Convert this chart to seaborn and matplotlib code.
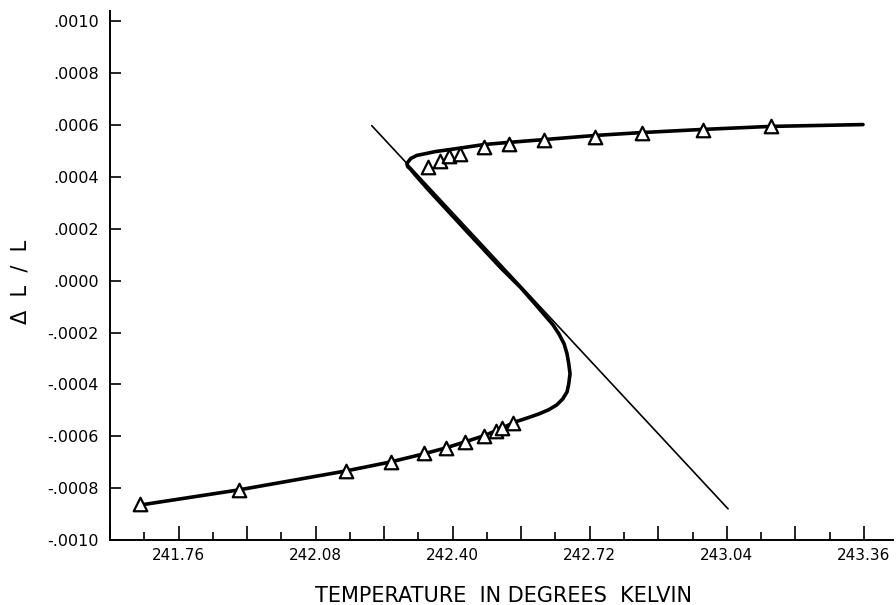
import matplotlib
matplotlib.use("Agg")
import matplotlib.pyplot as plt
import seaborn as sns
import pandas as pd

# Measured points (triangles)
point_T = [241.671, 241.900, 242.150, 242.255, 242.332, 242.384, 242.428, 242.473,
           242.501, 242.515, 242.540,
           242.342, 242.370, 242.391, 242.417, 242.473, 242.531, 242.613, 242.732,
           242.842, 242.984, 243.143]
point_dL = [-0.000861, -0.000807, -0.000734, -0.000699, -0.000664, -0.000645, -0.000622,
            -0.000598, -0.000579, -0.000568, -0.000548,
            0.000440, 0.000463, 0.000479, 0.000490, 0.000514, 0.000529, 0.000541,
            0.000556, 0.000568, 0.000583, 0.000595]

# Smooth S-shaped curve (traced)
curve_T = [243.358, 243.143, 242.980, 242.839, 242.732, 242.613, 242.529, 242.473,
           242.412, 242.360, 242.337, 242.316, 242.302, 242.295, 242.293, 242.295,
           242.302, 242.314, 242.349, 242.442, 242.512, 242.559, 242.594, 242.620,
           242.634, 242.648, 242.660, 242.667, 242.671, 242.674, 242.671, 242.667,
           242.657, 242.643, 242.624, 242.601, 242.575, 242.547, 242.512, 242.473,
           242.428, 242.384, 242.332, 242.255, 242.150, 241.900, 241.671]
curve_dL = [0.000602, 0.000595, 0.000583, 0.000571, 0.000560, 0.000544, 0.000533,
            0.000525, 0.000510, 0.000498, 0.000490, 0.000483, 0.000471, 0.000456,
            0.000452, 0.000440, 0.000429, 0.000405, 0.000340, 0.000174, 0.000050,
            -0.000027, -0.000093, -0.000143, -0.000170, -0.000205, -0.000243,
            -0.000282, -0.000320, -0.000359, -0.000398, -0.000429, -0.000456,
            -0.000479, -0.000498, -0.000514, -0.000529, -0.000544, -0.000571,
            -0.000598, -0.000622, -0.000645, -0.000668, -0.000699, -0.000734,
            -0.000807, -0.000865]

# Straight reference line
line_T = [242.211, 243.043]
line_dL = [0.000598, -0.000880]

x_major = [241.60, 241.76, 241.92, 242.08, 242.24, 242.40, 242.56, 242.72, 242.88,
           243.04, 243.20, 243.36]
x_labels = ["", "241.76", "", "242.08", "", "242.40", "", "242.72", "", "243.04", "", "243.36"]
x_minor = [241.68, 241.84, 242.00, 242.16, 242.32, 242.48, 242.64, 242.80, 242.96,
           243.12, 243.28]
y_ticks = [-0.0010, -0.0008, -0.0006, -0.0004, -0.0002, 0.0, 0.0002, 0.0004, 0.0006,
           0.0008, 0.0010]
y_labels = ["-.0010", "-.0008", "-.0006", "-.0004", "-.0002", ".0000", ".0002", ".0004",
            ".0006", ".0008", ".0010"]

sns.set_theme(style="ticks")
plt.rcParams['font.family'] = ['DejaVu Sans']

fig = plt.figure(figsize=(8.96, 6.05), dpi=100)
ax = fig.add_axes([110/896, 1-540/605, (893-110)/896, (540-11)/605])

curve_df = pd.DataFrame({"T": curve_T, "dL": curve_dL})
line_df = pd.DataFrame({"T": line_T, "dL": line_dL})
pts_df = pd.DataFrame({"T": point_T, "dL": point_dL})

sns.lineplot(data=line_df, x="T", y="dL", sort=False, estimator=None, color="black",
             linewidth=1.2, ax=ax)
sns.lineplot(data=curve_df, x="T", y="dL", sort=False, estimator=None, color="black",
             linewidth=2.6, ax=ax)
ax.lines[-1].set_solid_capstyle("round")
ax.lines[-1].set_solid_joinstyle("round")
sns.scatterplot(data=pts_df, x="T", y="dL", marker="^", s=95, facecolor="white",
                edgecolor="black", linewidth=1.6, ax=ax, zorder=5)

ax.set_xlim(241.60, 243.428)
ax.set_ylim(-0.0010, 0.00104)

ax.set_xticks(x_major)
ax.set_xticklabels(x_labels, fontsize=11)
ax.set_xticks(x_minor, minor=True)
ax.set_yticks(y_ticks)
ax.set_yticklabels(y_labels, fontsize=11.5)

ax.tick_params(axis="x", which="major", direction="in", length=10, width=1.2, pad=6,
               colors="black")
ax.tick_params(axis="x", which="minor", direction="in", length=6, width=1.2,
               colors="black")
ax.tick_params(axis="y", which="major", direction="in", length=8, width=1.2, pad=8,
               colors="black")

sns.despine(ax=ax)
for s in ["left", "bottom"]:
    ax.spines[s].set_linewidth(1.4)
    ax.spines[s].set_color("black")

ax.set_xlabel("TEMPERATURE  IN DEGREES  KELVIN", fontsize=15, color="black")
ax.set_ylabel("Δ  L  /  L", fontsize=15, color="black")
ax.xaxis.set_label_coords(0.503, -0.087)
ax.yaxis.set_label_coords(-0.102, 0.488)

fig.savefig("out.png", dpi=100)
